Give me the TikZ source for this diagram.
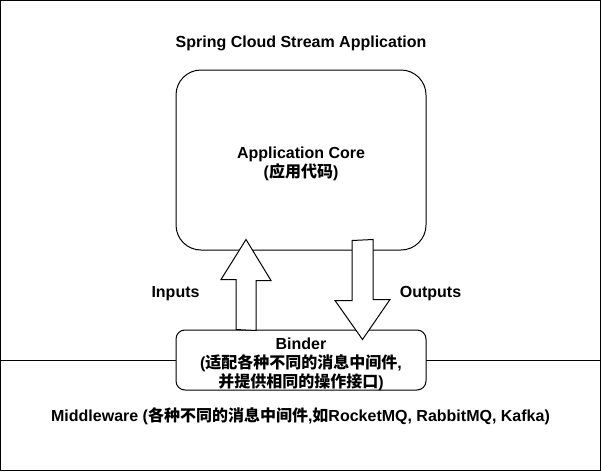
\documentclass[tikz,border=0pt]{standalone}
\usepackage{fontspec}
\setmainfont{Liberation Sans}
\newfontfamily\cjk{Noto Sans CJK SC}
\usetikzlibrary{calc}

\begin{document}
\begin{tikzpicture}[x=1pt,y=-1pt,line width=1pt,
    txt/.style={font=\bfseries\fontsize{16}{19}\selectfont,align=center,yshift=-3pt},
    box/.style={draw,fill=white,minimum width=250pt,inner sep=0pt},
    fatarrow/.style={draw,fill=white,line join=miter}]
  \useasboundingbox (0,0) rectangle (601,471);
  \draw (0.5,0.5) rectangle (600.5,470.5);
  \draw (0,360) -- (601,360);
  \node[txt] (title) at (301,40) {Spring Cloud Stream Application};
  \node[box,minimum height=180pt,rounded corners=25pt] (core) at (301,160) {};
  \node[txt,yshift=-1pt] (core-lbl) at (core) {Application Core\\({\cjk 应用代码})};
  \node[box,minimum height=60pt,rounded corners=9pt] (binder) at (301,360) {};
  \node[txt,yshift=-1pt] (binder-lbl) at (binder)
    {Binder\\({\cjk 适配各种不同的消息中间件},\\{\cjk 并提供相同的操作接口})};
  \node[txt] (inputs) at (175.5,291) {Inputs};
  \node[txt] (outputs) at (430.5,291) {Outputs};
  \node[txt] (mw) at (300.5,413)
    {Middleware ({\cjk 各种不同的消息中间件},{\cjk 如}RocketMQ, RabbitMQ, Kafka)};
  % block arrows between binder and core
  \coordinate (in-s) at ($(binder.north)+(-55,0)$);
  \coordinate (in-e) at ($(core.south)+(-55,-11)$);
  \coordinate (out-s) at ($(core.south)+(61.5,-10)$);
  \coordinate (out-e) at ($(binder.north)+(61.5,10)$);
  \draw[fatarrow] (in-s) ++(-10,0) -- ++(0,-50) -- ++(-15,0) -- (in-e)
    -- ++(25,41) -- ++(-15,0) -- ++(0,50) -- cycle;
  \draw[fatarrow] (out-s) ++(-10.5,0) -- ++(0,60) -- ++(-17,0) -- (out-e)
    -- ++(27.5,-40) -- ++(-17,0) -- ++(0,-60) -- cycle;
\end{tikzpicture}
\end{document}
